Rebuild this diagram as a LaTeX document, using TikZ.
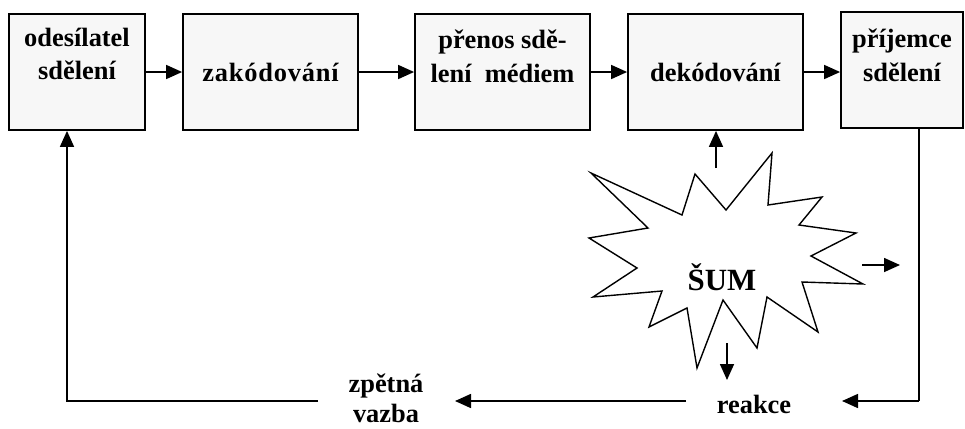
\documentclass[tikz,border=0pt]{standalone}
\usepackage{fontspec}
\setmainfont{Liberation Serif}
\usetikzlibrary{arrows.meta}
\definecolor{boxfill}{HTML}{F7F7F7}
\tikzset{
  procbox/.style={draw=black, line width=1.8bp, fill=boxfill, minimum height=116bp, inner sep=0pt},
  lbl/.style={font=\fontsize{26.5}{34}\selectfont\bfseries, align=center, inner sep=0pt},
  conn/.style={line width=1.6bp, -{Triangle[length=16bp,width=14bp]}},
  plain/.style={line width=1.6bp},
}
\begin{document}
\begin{tikzpicture}[x=1bp,y=-1bp]
\useasboundingbox (0,0) rectangle (965,428);
% boxes
\node[procbox, minimum width=136bp] (b1) at (77,72) {};
\node[procbox, minimum width=175bp] (b2) at (270.5,72) {};
\node[procbox, minimum width=175bp] (b3) at (502.5,72) {};
\node[procbox, minimum width=175bp] (b4) at (715.5,72) {};
\node[procbox, minimum width=122bp] (b5) at (902,70) {};
% labels
\node[lbl] (t1) at (77,54) {odesílatel\\sdělení};
\node[lbl] (t2) at (270.5,72) {\addfontfeature{LetterSpace=3}zakódování};
\node[lbl] (t3) at (502.5,56) {přenos sdě-\\lení\ \ médiem};
\node[lbl] (t4) at (715.5,72) {dekódování};
\node[lbl] (t5) at (902,55) {příjemce\\sdělení};
% arrows between boxes
\draw[conn] (b1.east) -- (b2.west);
\draw[conn] (b2.east) -- (b3.west);
\draw[conn] (b3.east) -- (b4.west);
\draw[conn] (b4.east) -- (b4.east -| b5.west);
% noise starburst
\draw[line width=1.4bp, line join=miter, fill=white]
  (591,173) -- (682,215) -- (695,174) -- (726,210) -- (772,153) -- (768,205)
  -- (822,197) -- (799,225) -- (856,233) -- (811,256) -- (863,284) -- (802,282)
  -- (818,332) -- (767,297) -- (757,348) -- (723,300) -- (697,368) -- (687,308)
  -- (649,327) -- (662,291) -- (593,297) -- (637,268) -- (589,238) -- (648,228)
  -- cycle;
\node[font=\fontsize{31}{36}\selectfont\bfseries, inner sep=0pt] (sum) at (722,277) {ŠUM};
% noise arrows
\coordinate (nu) at (716,168);
\coordinate (nd0) at (727,343);
\coordinate (nd1) at (727,380);
\coordinate (nr0) at (862,265);
\coordinate (nr1) at (900,265);
\draw[conn] (nu) -- (nu |- b4.south);
\draw[conn] (nd0) -- (nd1);
\draw[conn] (nr0) -- (nr1);
% feedback loop
\coordinate (rc) at (919,401);
\coordinate (rtip) at (842,401);
\node[lbl, anchor=base] (reakce) at (754,413) {reakce};
\coordinate (ra) at (686,401);
\coordinate (rb) at (455,401);
\node[lbl, anchor=base] (zv1) at (386,392) {zpětná};
\node[lbl, anchor=base] (zv2) at (386,422) {vazba};
\coordinate (za) at (318,401);
\coordinate (zl) at (67,401);
\draw[plain] (b5.south -| rc) -- (rc);
\draw[conn] (rc) -- (rtip);
\draw[conn] (ra) -- (rb);
\draw[conn] (za) -- (zl) -- (b1.south -| zl);
\end{tikzpicture}
\end{document}
